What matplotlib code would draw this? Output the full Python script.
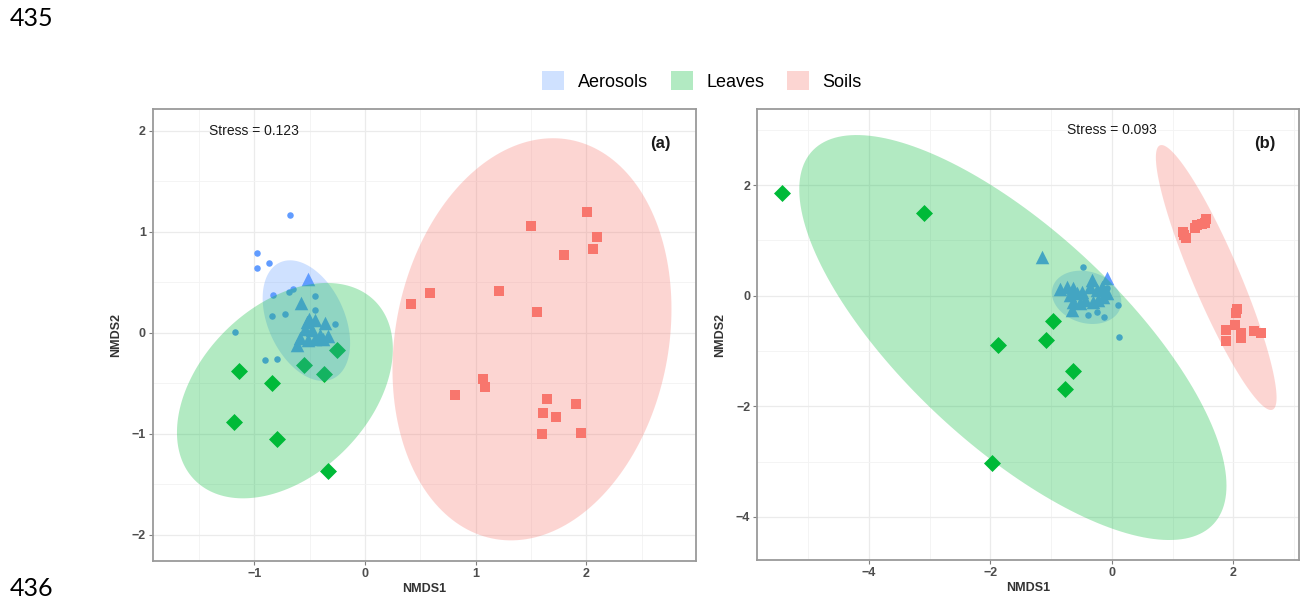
import numpy as np
import matplotlib
matplotlib.use("Agg")
import matplotlib.pyplot as plt
from matplotlib.patches import Patch
from matplotlib.ticker import MultipleLocator

plt.rcParams["font.family"] = ["Liberation Sans", "DejaVu Sans"]

groups = ["Aerosols", "Leaves", "Soils"]
colors = {"Aerosols": "#619CFF", "Leaves": "#00BA38", "Soils": "#F8766D"}

# ---- panel (a) ----
a_aer_circ_x = [-0.675, -0.973, -0.978, -0.870, -0.831, -0.689, -0.648, -0.449,
                -0.840, -0.720, -0.452, -0.268, -1.174, -0.901, -0.792]
a_aer_circ_y = [1.164, 0.792, 0.637, 0.689, 0.376, 0.399, 0.432, 0.363,
                0.168, 0.188, 0.224, 0.085, 0.010, -0.274, -0.261]
a_aer_tri_x = [-0.512, -0.578, -0.503, -0.452, -0.361, -0.542, -0.481, -0.407,
               -0.332, -0.587, -0.452, -0.612, -0.512, -0.377, -0.527]
a_aer_tri_y = [0.535, 0.293, 0.139, 0.122, 0.095, 0.040, 0.023, -0.027,
               -0.037, -0.050, -0.060, -0.126, -0.076, -0.060, 0.105]
a_leaf_x = [-1.135, -0.843, -0.548, -0.373, -0.256, -1.180, -0.795, -0.334]
a_leaf_y = [-0.380, -0.499, -0.324, -0.413, -0.168, -0.889, -1.050, -1.370]
a_soil_x = [2.008, 1.497, 2.096, 2.063, 1.800, 0.584, 0.413, 1.208, 1.557,
            1.063, 1.084, 0.813, 1.641, 1.903, 1.605, 1.728, 1.596, 1.951]
a_soil_y = [1.194, 1.052, 0.950, 0.832, 0.772, 0.396, 0.283, 0.416, 0.208,
            -0.456, -0.535, -0.614, -0.653, -0.703, -0.799, -0.835, -1.000, -0.990]
# ellipse centre and shape (sxx, syy, sxy)
a_ell_center = {"Aerosols": (-0.530, 0.119), "Leaves": (-0.724, -0.574), "Soils": (1.508, -0.066)}
a_ell_shape = {"Aerosols": (0.156, 0.356, -0.088), "Leaves": (0.951, 1.136, 0.403),
               "Soils": (1.588, 3.960, 0.378)}

# ---- panel (b) ----
b_aer_circ_x = [-0.470, 0.100, -0.390, -0.250, -0.130, 0.115, -0.087]
b_aer_circ_y = [0.524, -0.168, -0.349, -0.300, -0.390, -0.752, 0.135]
b_aer_tri_x = [-1.156, -0.087, -0.855, -0.745, -0.636, -0.691, -0.581, -0.499, -0.334,
               -0.362, -0.252, -0.169, -0.143, -0.225, -0.636, -0.663, -0.526, -0.444,
               -0.307, -0.087]
b_aer_tri_y = [0.703, 0.315, 0.116, 0.162, 0.133, 0.013, 0.043, 0.073, 0.284,
               0.163, 0.103, 0.163, -0.018, -0.078, -0.108, -0.259, -0.138, -0.078,
               -0.108, 0.043]
b_leaf_x = [-5.433, -3.092, -1.870, -1.086, -1.969, -0.965, -0.637, -0.773]
b_leaf_y = [1.852, 1.490, -0.897, -0.801, -3.020, -0.453, -1.362, -1.693]
b_soil_x = [1.184, 1.217, 1.173, 1.365, 1.393, 1.475, 1.557, 1.530,
            2.061, 2.050, 2.034, 1.870, 1.886, 2.120, 2.133, 2.340, 2.462]
b_soil_y = [1.098, 1.040, 1.157, 1.219, 1.278, 1.296, 1.380, 1.310,
            -0.246, -0.318, -0.530, -0.620, -0.814, -0.680, -0.760, -0.633, -0.669]
b_ell_center = {"Aerosols": (-0.416, -0.029), "Leaves": (-1.629, -0.756), "Soils": (1.717, 0.329)}
b_ell_shape = {"Aerosols": (0.326, 0.232, -0.048), "Leaves": (12.355, 13.41, -9.415),
               "Soils": (0.986, 5.741, -2.156)}


def ellipse_xy(center, shape, n=200):
    sxx, syy, sxy = shape
    L = np.linalg.cholesky(np.array([[sxx, sxy], [sxy, syy]]))
    t = np.linspace(0, 2 * np.pi, n)
    pts = L @ np.vstack([np.cos(t), np.sin(t)])
    return pts[0] + center[0], pts[1] + center[1]


def draw_panel(ax, circ, tri, leaf, soil, centers, shapes, xlim, ylim, step,
               stress_xy, stress, tag_xy, tag):
    ax.scatter(*circ, marker="o", s=22, color=colors["Aerosols"], lw=0, zorder=2)
    ax.scatter(*tri, marker="^", s=95, color=colors["Aerosols"], lw=0, zorder=2)
    ax.scatter(*leaf, marker="D", s=75, color=colors["Leaves"], lw=0, zorder=2)
    ax.scatter(*soil, marker="s", s=55, color=colors["Soils"], lw=0, zorder=2)
    for g in groups:
        ex, ey = ellipse_xy(centers[g], shapes[g])
        ax.fill(ex, ey, color=colors[g], alpha=0.3, lw=0, zorder=3)

    ax.set_xlim(*xlim)
    ax.set_ylim(*ylim)
    ax.xaxis.set_major_locator(MultipleLocator(step))
    ax.yaxis.set_major_locator(MultipleLocator(step))
    ax.xaxis.set_minor_locator(MultipleLocator(step / 2))
    ax.yaxis.set_minor_locator(MultipleLocator(step / 2))
    ax.grid(which="major", color="#EBEBEB", lw=0.9)
    ax.grid(which="minor", color="#F3F3F3", lw=0.6)
    ax.set_axisbelow(True)
    ax.tick_params(which="major", length=3, width=0.8, color="#7F7F7F",
                   labelcolor="#4D4D4D", labelsize=9, pad=2)
    ax.tick_params(which="minor", length=0)
    for lab in ax.get_xticklabels() + ax.get_yticklabels():
        lab.set_fontweight("bold")
    for sp in ax.spines.values():
        sp.set_color("#9A9A9A")
        sp.set_linewidth(1.3)
    ax.set_xlabel("NMDS1", fontsize=9, fontweight="bold", color="#333333", labelpad=2)
    ax.set_ylabel("NMDS2", fontsize=9, fontweight="bold", color="#333333", labelpad=7)
    ax.text(*stress_xy, stress, fontsize=10, ha="center", va="center", color="#1A1A1A", zorder=5)
    ax.text(*tag_xy, tag, fontsize=12, fontweight="bold", ha="center", va="center",
            color="#1A1A1A", zorder=5)


fig = plt.figure(figsize=(13.01, 6.02), dpi=100)
ax1 = fig.add_axes([0.1174, 0.0681, 0.4176, 0.7503])
ax2 = fig.add_axes([0.5821, 0.0698, 0.4164, 0.7486])

draw_panel(ax1, (a_aer_circ_x, a_aer_circ_y), (a_aer_tri_x, a_aer_tri_y),
           (a_leaf_x, a_leaf_y), (a_soil_x, a_soil_y), a_ell_center, a_ell_shape,
           (-1.918, 2.99), (-2.26, 2.21), 1, (-1.0, 2.0), "Stress = 0.123",
           (2.67, 1.87), "(a)")
draw_panel(ax2, (b_aer_circ_x, b_aer_circ_y), (b_aer_tri_x, b_aer_tri_y),
           (b_leaf_x, b_leaf_y), (b_soil_x, b_soil_y), b_ell_center, b_ell_shape,
           (-5.834, 3.08), (-4.779, 3.371), 2, (0.0, 3.0), "Stress = 0.093",
           (2.52, 2.76), "(b)")

handles = [Patch(facecolor=colors[g], alpha=0.3, edgecolor="none", label=g) for g in groups]
fig.legend(handles=handles, loc="center", bbox_to_anchor=(0.5395, 0.8654), ncol=3,
           frameon=False, fontsize=13, handlelength=1.22, handleheight=1.22,
           handletextpad=0.75, columnspacing=1.25)

# document line numbers
fig.text(10 / 1301, 1 - 18 / 602, "435", fontsize=18, family="Lato", va="center", ha="left")
fig.text(10 / 1301, 1 - 600 / 602, "436", fontsize=18, family="Lato", va="bottom", ha="left")

fig.savefig("out.png", dpi=100)
